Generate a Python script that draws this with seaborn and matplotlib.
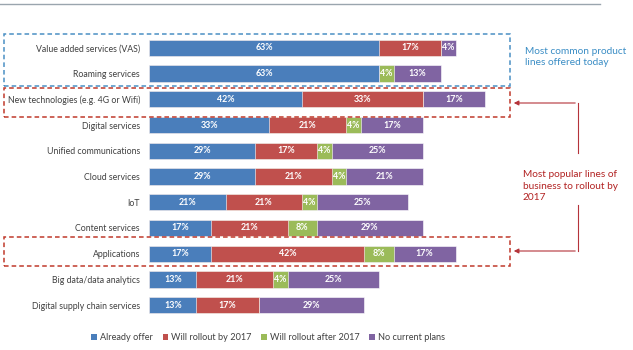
import numpy as np
import pandas as pd
import matplotlib
matplotlib.use('Agg')
import matplotlib.pyplot as plt
from matplotlib.patches import Rectangle, Patch, FancyArrowPatch
import seaborn as sns

# ── data ─────────────────────────────────────────────
categories = ['Value added services (VAS)', 'Roaming services',
              'New technologies (e.g. 4G or Wifi)', 'Digital services',
              'Unified communications', 'Cloud services', 'IoT',
              'Content services', 'Applications', 'Big data/data analytics',
              'Digital supply chain services']
already   = [63, 63, 42, 33, 29, 29, 21, 17, 17, 13, 13]
by2017    = [17, 0, 33, 21, 17, 21, 21, 21, 42, 21, 17]
after2017 = [0, 4, 0, 4, 4, 4, 4, 8, 8, 4, 0]
no_plans  = [4, 13, 17, 17, 25, 21, 25, 29, 17, 25, 29]

series = ['Already offer', 'Will rollout by 2017', 'Will rollout after 2017', 'No current plans']
COLORS = ['#4A7EBB', '#C0504D', '#9BBB59', '#8064A2']

df = pd.DataFrame({'cat': categories, series[0]: already, series[1]: by2017,
                   series[2]: after2017, series[3]: no_plans})
cum = df[series].cumsum(axis=1)

W, H = 633, 350
fig = plt.figure(figsize=(W / 100, H / 100), dpi=100)
plt.rcParams['font.family'] = ['Lato', 'DejaVu Sans']

def fx(px): return px / W
def fy(py): return 1 - py / H

ax = fig.add_axes([fx(149), fy(318), 365 / W, 283 / H])

# stacked bars drawn as overlapping cumulative layers
for i in reversed(range(len(series))):
    sns.barplot(x=cum[series[i]], y=df['cat'], color=COLORS[i], orient='h',
                width=0.63, edgecolor='white', linewidth=0.4, saturation=1, ax=ax)

for r in range(len(df)):
    left = 0
    for s in series:
        v = df.loc[r, s]
        if v > 0:
            ax.text(left + v / 2, r, f'{v}%', ha='center', va='center',
                    color='white', fontsize=6.4, fontweight='bold')
        left += v

ax.set_xlim(0, 100)
ax.set_ylim(10.5, -0.5)
ax.set_xlabel('')
ax.set_ylabel('')
ax.set_xticks([])
ax.tick_params(axis='y', length=0, pad=6.5, labelsize=6.3, labelcolor='#404040')
for sp in ax.spines.values():
    sp.set_visible(False)

# top rule
fig.add_artist(plt.Line2D([fx(0), fx(600)], [fy(4), fy(4)], color='#9AA5AE', lw=1))

# dashed boxes
def box(x0, y0, x1, y1, color):
    fig.add_artist(Rectangle((fx(x0), fy(y1)), fx(x1) - fx(x0), fy(y0) - fy(y1),
                             fill=False, ls=(0, (3, 2)), lw=1.1, ec=color,
                             transform=fig.transFigure))

box(4, 34, 510, 86, '#4A8FC4')
box(4, 88, 510, 117, '#C0392B')
box(4, 237, 510, 266, '#C0392B')

# annotations
fig.text(fx(525), fy(57), 'Most common product\nlines offered today', color='#3A8DC5',
         fontsize=7.3, va='center', ha='left', linespacing=1.35)
fig.text(fx(523), fy(186), 'Most popular lines of\nbusiness to rollout by\n2017', color='#B22222',
         fontsize=7.3, va='center', ha='left', linespacing=1.35)

red = '#B5333A'
fig.add_artist(plt.Line2D([fx(578), fx(578)], [fy(103), fy(153)], color=red, lw=0.8))
fig.add_artist(plt.Line2D([fx(578), fx(578)], [fy(205), fy(251)], color=red, lw=0.8))
for yy in (103, 251):
    fig.add_artist(FancyArrowPatch(
        (fx(578), fy(yy)), (fx(511), fy(yy)), transform=fig.transFigure,
        arrowstyle='-|>', mutation_scale=7, color=red, lw=0.8))

# legend
handles = [Patch(facecolor=c, edgecolor='none') for c in COLORS]
fig.legend(handles, series, loc='center', bbox_to_anchor=(fx(268), fy(338)), ncol=4,
           frameon=False, fontsize=6.6, handlelength=0.6, handleheight=0.6,
           handletextpad=0.3, columnspacing=1.1, labelcolor='#404040')

fig.savefig('out.png', dpi=100, facecolor='white')
